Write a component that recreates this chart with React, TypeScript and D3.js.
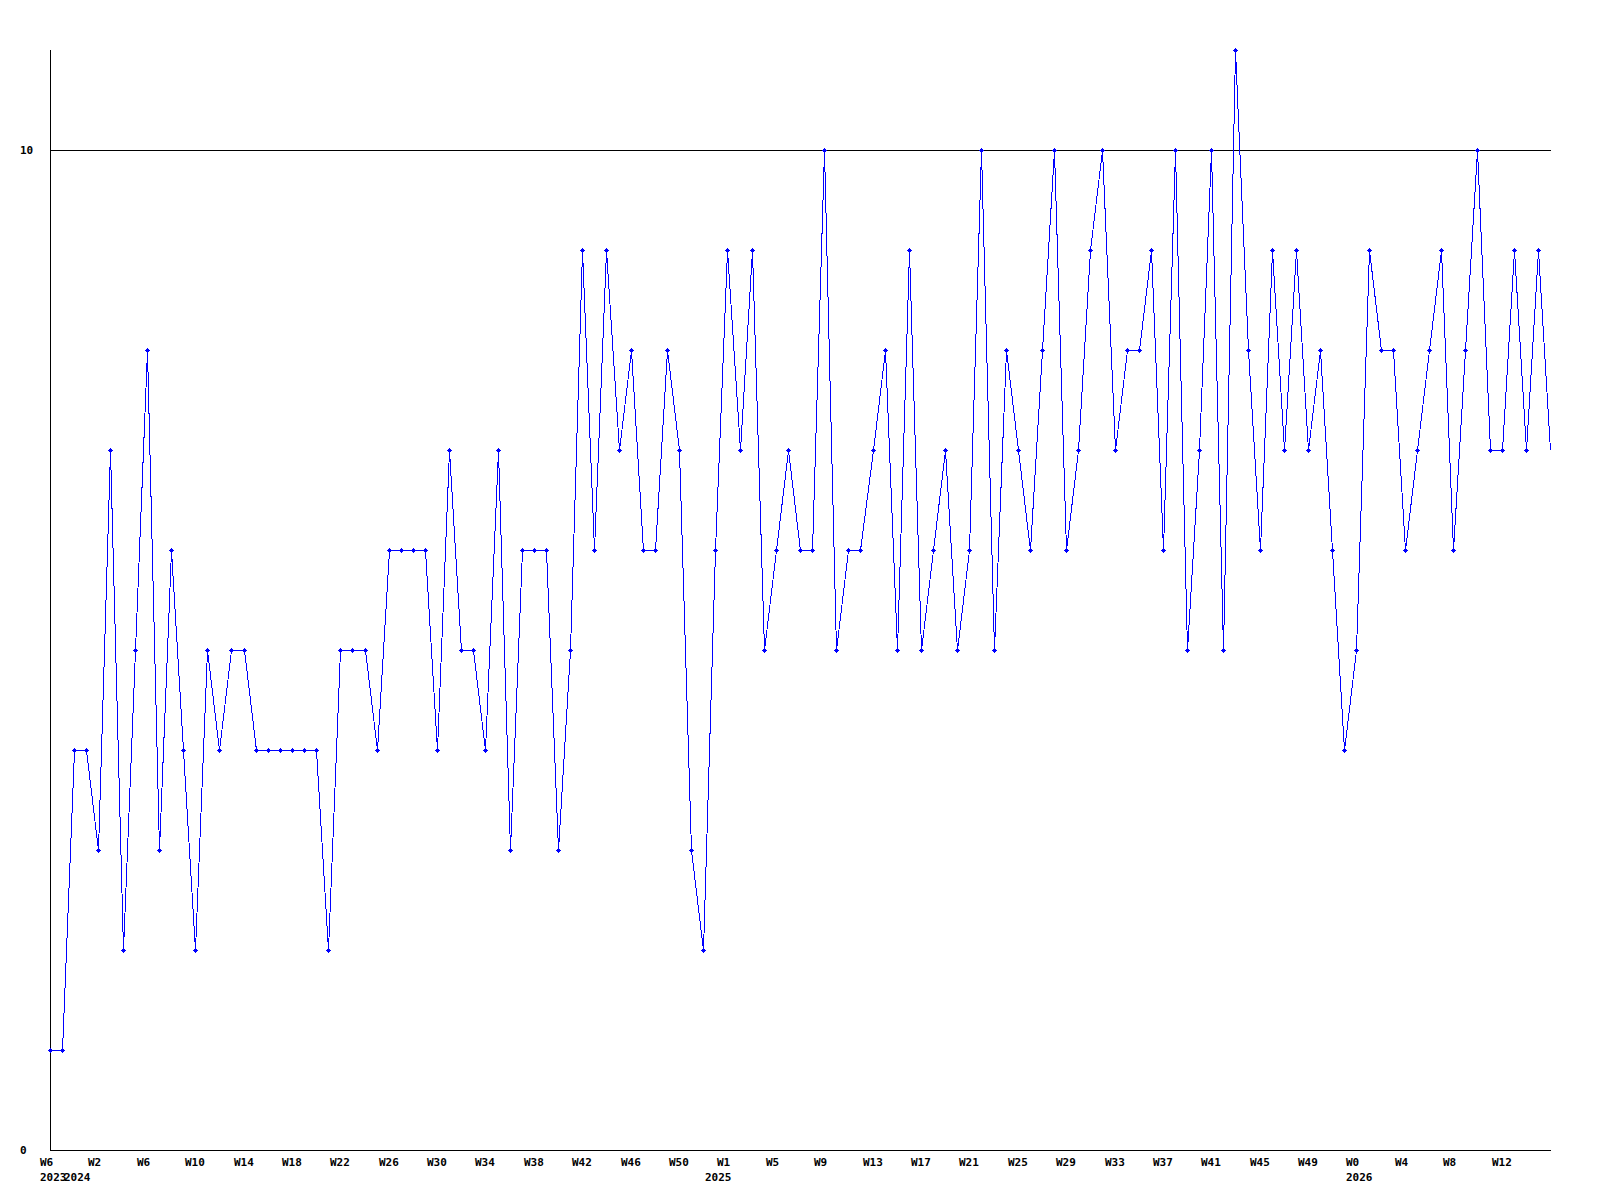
import React from "react";
import * as d3 from "d3";

const values: number[] = [
  1, 1, 4, 4, 3, 7, 2, 5, 8, 3, 6, 4, 2, 5, 4, 5, 5, 4, 4, 4, 4, 4, 4, 2, 5,
  5, 5, 4, 6, 6, 6, 6, 4, 7, 5, 5, 4, 7, 3, 6, 6, 6, 3, 5, 9, 6, 9, 7, 8, 6,
  6, 8, 7, 3, 2, 6, 9, 7, 9, 5, 6, 7, 6, 6, 10, 5, 6, 6, 7, 8, 5, 9, 5, 6, 7,
  5, 6, 10, 5, 8, 7, 6, 8, 10, 6, 7, 9, 10, 7, 8, 8, 9, 6, 10, 5, 7, 10, 5, 11, 8,
  6, 9, 7, 9, 7, 8, 6, 4, 5, 9, 8, 8, 6, 7, 8, 9, 6, 8, 10, 7, 7, 9, 7, 9, 7,
];

const weekTickIndex: number[] = [
  0, 4, 8, 12, 16, 20, 24, 28, 32, 36, 40, 44, 48, 52, 56, 60, 64, 68, 72, 76,
  80, 84, 88, 92, 96, 100, 104, 108, 112, 116, 120,
];
const weekTickLabels: string[] = [
  "W6", "W2", "W6", "W10", "W14", "W18", "W22", "W26", "W30", "W34", "W38",
  "W42", "W46", "W50", "W1", "W5", "W9", "W13", "W17", "W21", "W25", "W29",
  "W33", "W37", "W41", "W45", "W49", "W0", "W4", "W8", "W12",
];
const yearTickIndex: number[] = [0, 2, 55, 108];
const yearTickLabels: string[] = ["2023", "2024", "2025", "2026"];
const yTicks: number[] = [0, 10];

export default function App() {
  const x = d3.scaleLinear().domain([0, values.length - 1]).range([50, 1550]);
  const y = d3.scaleLinear().domain([0, 10]).range([1150, 150]);
  const px = (i: number) => Math.round(x(i)) + 0.5;
  const py = (v: number) => Math.round(y(v)) + 0.5;
  const line = d3
    .line<number>()
    .x((_, i) => px(i))
    .y((d) => py(d));
  const font = {
    fontFamily: "'DejaVu Sans Mono', monospace",
    fontWeight: "bold" as const,
    fontSize: 11,
  };
  return (
    <div style={{ position: "absolute", left: 0, top: 0 }}>
      <svg width={1600} height={1200} style={{ display: "block", background: "#fff" }}>
        <rect x={0} y={0} width={1600} height={1200} fill="#fff" />
        {/* axes */}
        <line x1={50.5} y1={50} x2={50.5} y2={1151} stroke="#000" strokeWidth={1} shapeRendering="crispEdges" />
        <line x1={50} y1={1150.5} x2={1551} y2={1150.5} stroke="#000" strokeWidth={1} shapeRendering="crispEdges" />
        <line x1={50} y1={py(10)} x2={1551} y2={py(10)} stroke="#000" strokeWidth={1} shapeRendering="crispEdges" />
        {yTicks.map((t) => (
          <text key={t} x={20} y={Math.round(y(t)) + 4} {...font} fill="#000">
            {t}
          </text>
        ))}
        {weekTickIndex.map((idx, k) => (
          <text key={"w" + k} x={Math.round(x(idx)) - 10} y={1166} {...font} fill="#000">
            {weekTickLabels[k]}
          </text>
        ))}
        {yearTickIndex.map((idx, k) => (
          <text key={"y" + k} x={Math.round(x(idx)) - 10} y={1181} {...font} fill="#000">
            {yearTickLabels[k]}
          </text>
        ))}
        <path d={line(values) || ""} fill="none" stroke="#0000ff" strokeWidth={1} shapeRendering="crispEdges" />
        {values.slice(0, values.length - 1).map((v, i) => {
          const cx = Math.round(x(i));
          const cy = Math.round(y(v));
          return (
            <g key={i} fill="#0000ff" shapeRendering="crispEdges">
              <rect x={cx - 1} y={cy - 1} width={3} height={3} />
              <rect x={cx - 2} y={cy} width={5} height={1} />
              <rect x={cx} y={cy - 2} width={1} height={5} />
            </g>
          );
        })}
      </svg>
    </div>
  );
}
